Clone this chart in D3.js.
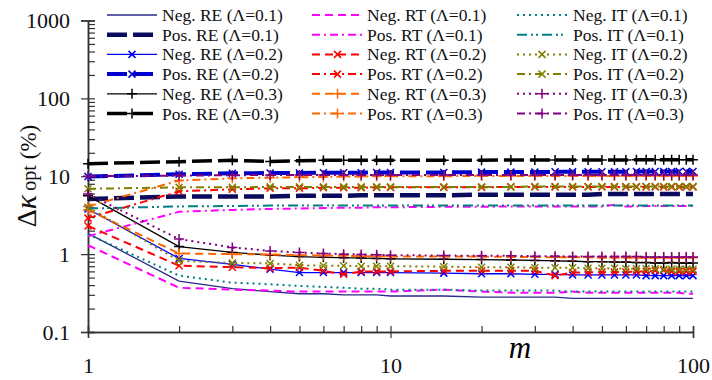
<!DOCTYPE html>
<html>
<head>
<meta charset="utf-8">
<script src="https://cdn.jsdelivr.net/npm/d3@7"></script>
<style>
  body { margin: 0; background: #fff; }
</style>
</head>
<body>
<div id="chart"></div>
<script>
// sample sizes m
const mValues = [1, 2, 3, 4, 5, 6, 7, 8, 9, 10, 15, 20, 25, 30, 35, 40, 45, 50, 55, 60, 65, 70, 75, 80, 85, 90, 95, 100];

// Delta kappa opt (%) per series
const negRE1 = [1.85, 0.45, 0.36, 0.33, 0.31, 0.31, 0.3, 0.3, 0.3, 0.29, 0.29, 0.28, 0.28, 0.28, 0.28, 0.27, 0.27, 0.27, 0.27, 0.27, 0.27, 0.27, 0.27, 0.27, 0.27, 0.27, 0.27, 0.27];
const posRE1 = [5.1, 5.5, 5.5, 5.5, 5.6, 5.6, 5.6, 5.7, 5.7, 5.7, 5.7, 5.8, 5.8, 5.8, 5.8, 5.8, 5.8, 5.9, 5.9, 5.9, 5.9, 5.9, 5.9, 5.9, 5.9, 5.9, 5.9, 5.9];
const negRE2 = [3.8, 0.88, 0.74, 0.64, 0.58, 0.58, 0.58, 0.58, 0.58, 0.58, 0.57, 0.56, 0.56, 0.55, 0.55, 0.54, 0.54, 0.54, 0.54, 0.54, 0.54, 0.53, 0.53, 0.53, 0.53, 0.53, 0.53, 0.53];
const posRE2 = [9.9, 10.6, 10.9, 11.0, 11.0, 11.1, 11.1, 11.1, 11.2, 11.2, 11.2, 11.3, 11.3, 11.3, 11.4, 11.4, 11.4, 11.4, 11.4, 11.4, 11.5, 11.5, 11.5, 11.5, 11.5, 11.5, 11.5, 11.5];
const negRE3 = [5.6, 1.25, 1.05, 0.97, 0.93, 0.91, 0.9, 0.89, 0.88, 0.87, 0.86, 0.85, 0.84, 0.83, 0.82, 0.81, 0.8, 0.8, 0.79, 0.79, 0.78, 0.78, 0.77, 0.77, 0.78, 0.77, 0.77, 0.77];
const posRE3 = [14.5, 15.4, 16.0, 15.5, 15.8, 16.0, 16.0, 16.0, 16.1, 16.1, 16.1, 16.1, 16.2, 16.2, 16.2, 16.2, 16.2, 16.2, 16.2, 16.2, 16.3, 16.3, 16.3, 16.3, 16.3, 16.3, 16.3, 16.3];
const negRT1 = [1.3, 0.37, 0.35, 0.34, 0.33, 0.33, 0.33, 0.33, 0.33, 0.33, 0.35, 0.33, 0.32, 0.32, 0.32, 0.33, 0.32, 0.32, 0.32, 0.32, 0.32, 0.32, 0.32, 0.32, 0.32, 0.32, 0.31, 0.31];
const posRT1 = [1.7, 3.5, 3.7, 3.8, 3.85, 3.9, 3.95, 3.95, 4.0, 4.0, 4.05, 4.05, 4.1, 4.1, 4.1, 4.1, 4.1, 4.1, 4.3, 4.1, 4.1, 4.15, 4.15, 4.15, 4.15, 4.15, 4.15, 4.15];
const negRT2 = [2.3, 0.71, 0.68, 0.66, 0.67, 0.61, 0.55, 0.6, 0.6, 0.6, 0.61, 0.61, 0.61, 0.61, 0.53, 0.58, 0.58, 0.59, 0.59, 0.59, 0.6, 0.6, 0.61, 0.62, 0.6, 0.6, 0.6, 0.6];
const posRT2 = [2.9, 6.4, 6.8, 7.0, 7.0, 7.1, 7.1, 7.1, 7.2, 7.2, 7.2, 7.2, 7.3, 7.3, 7.3, 7.3, 7.3, 7.3, 7.3, 7.3, 7.3, 7.3, 7.3, 7.3, 7.3, 7.3, 7.3, 7.3];
const negRT3 = [3.7, 1.02, 1.0, 0.99, 0.97, 0.96, 0.95, 0.94, 0.94, 0.93, 0.93, 0.93, 0.92, 0.92, 0.91, 0.91, 0.91, 0.9, 0.9, 0.9, 0.9, 0.9, 0.9, 0.9, 0.9, 0.9, 0.9, 0.9];
const posRT3 = [4.1, 8.8, 9.4, 9.6, 9.7, 9.8, 9.9, 9.9, 10.0, 10.0, 10.0, 10.1, 10.1, 10.1, 10.1, 10.1, 10.1, 10.1, 10.1, 10.1, 10.1, 10.1, 10.1, 10.1, 10.1, 10.1, 10.1, 10.1];
const negIT1 = [1.8, 0.53, 0.43, 0.41, 0.39, 0.38, 0.37, 0.36, 0.36, 0.35, 0.35, 0.34, 0.34, 0.34, 0.34, 0.33, 0.33, 0.33, 0.33, 0.33, 0.33, 0.33, 0.33, 0.33, 0.33, 0.33, 0.33, 0.33];
const posIT1 = [3.85, 4.1, 4.15, 4.2, 4.2, 4.2, 4.2, 4.2, 4.2, 4.2, 4.2, 4.2, 4.2, 4.2, 4.2, 4.2, 4.2, 4.2, 4.2, 4.2, 4.2, 4.2, 4.2, 4.2, 4.2, 4.2, 4.2, 4.2];
const negIT2 = [4.0, 0.82, 0.77, 0.76, 0.72, 0.71, 0.71, 0.7, 0.7, 0.7, 0.69, 0.68, 0.68, 0.67, 0.67, 0.67, 0.66, 0.66, 0.66, 0.65, 0.65, 0.65, 0.65, 0.64, 0.64, 0.64, 0.64, 0.64];
const posIT2 = [6.9, 7.2, 7.2, 7.3, 7.3, 7.3, 7.3, 7.3, 7.3, 7.3, 7.3, 7.3, 7.3, 7.4, 7.4, 7.4, 7.4, 7.4, 7.4, 7.4, 7.4, 7.4, 7.4, 7.4, 7.4, 7.4, 7.4, 7.4];
const negIT3 = [5.9, 1.56, 1.22, 1.1, 1.05, 1.02, 1.0, 0.99, 0.98, 0.97, 0.96, 0.95, 0.95, 0.94, 0.94, 0.93, 0.93, 0.93, 0.93, 0.93, 0.93, 0.92, 0.92, 0.92, 0.92, 0.92, 0.92, 0.92];
const posIT3 = [10.0, 10.2, 10.3, 10.4, 10.4, 10.4, 10.4, 10.4, 10.4, 10.4, 10.4, 10.4, 10.4, 10.4, 10.4, 10.4, 10.4, 10.4, 10.4, 10.4, 10.4, 10.4, 10.4, 10.4, 10.4, 10.4, 10.4, 10.4];

const seriesNames = [
  "Neg. RE (Λ=0.1)", "Pos. RE (Λ=0.1)", "Neg. RE (Λ=0.2)", "Pos. RE (Λ=0.2)", "Neg. RE (Λ=0.3)", "Pos. RE (Λ=0.3)",
  "Neg. RT (Λ=0.1)", "Pos. RT (Λ=0.1)", "Neg. RT (Λ=0.2)", "Pos. RT (Λ=0.2)", "Neg. RT (Λ=0.3)", "Pos. RT (Λ=0.3)",
  "Neg. IT (Λ=0.1)", "Pos. IT (Λ=0.1)", "Neg. IT (Λ=0.2)", "Pos. IT (Λ=0.2)", "Neg. IT (Λ=0.3)", "Pos. IT (Λ=0.3)"
];
const seriesValues = [negRE1, posRE1, negRE2, posRE2, negRE3, posRE3,
  negRT1, posRT1, negRT2, posRT2, negRT3, posRT3,
  negIT1, posIT1, negIT2, posIT2, negIT3, posIT3];

const yTickValues = [0.1, 1, 10, 100, 1000];
const xTickValues = [1, 10, 100];

const FONT = "'Liberation Serif', 'Times New Roman', serif";

// line styles: color, width, dash, marker
const styles = [
  {c: "#2a2a88", w: 1.3, d: null, mk: null},
  {c: "#0a0a5e", w: 4.5, d: "20,6", mk: null},
  {c: "#0000ff", w: 1.3, d: null, mk: "x"},
  {c: "#0000cc", w: 4, d: "20,6", mk: "x"},
  {c: "#000000", w: 1.3, d: null, mk: "+"},
  {c: "#000000", w: 3.5, d: "20,6", mk: "+"},
  {c: "#ff00ff", w: 2, d: "8,5", mk: null},
  {c: "#ff00ff", w: 2, d: "8,4,2,4", mk: null},
  {c: "#ff0000", w: 2, d: "8,5", mk: "x"},
  {c: "#ff0000", w: 2, d: "8,4,2,4", mk: "x"},
  {c: "#ff6600", w: 2, d: "8,5", mk: "+"},
  {c: "#ff6600", w: 2, d: "8,4,2,4", mk: "+"},
  {c: "#008080", w: 2, d: "2,4", mk: null},
  {c: "#008080", w: 2, d: "10,4,2,3,2,4", mk: null},
  {c: "#808000", w: 2, d: "2,4", mk: "x"},
  {c: "#808000", w: 2, d: "8,4,2,4", mk: "x"},
  {c: "#800080", w: 2, d: "2,4", mk: "+"},
  {c: "#800080", w: 2, d: "8,4,2,4", mk: "+"}
];

const W = 712, H = 380;
const svg = d3.select("#chart").append("svg")
  .attr("width", W).attr("height", H);

const x = d3.scaleLog().domain([1, 100]).range([88, 693]);
const y = d3.scaleLog().domain([0.1, 1000]).range([332, 20.5]);

// minor ticks
const yMinor = [];
[0.1, 1, 10, 100].forEach(b => { for (let k = 2; k <= 9; k++) yMinor.push(b * k); });
const xMinor = [];
[1, 10].forEach(b => { for (let k = 2; k <= 9; k++) xMinor.push(b * k); });

// Y axis
const gy = svg.append("g").attr("transform", "translate(88,0)");
gy.call(d3.axisLeft(y).tickValues(yTickValues).tickSize(7).tickPadding(11)
  .tickFormat(d => d >= 1 ? d3.format("d")(d) : "0.1"));
gy.append("g").call(d3.axisRight(y).tickValues(yTickValues.concat(yMinor)).tickSize(7).tickFormat(""));
// X axis
const gx = svg.append("g").attr("transform", "translate(0,332)");
gx.call(d3.axisBottom(x).tickValues(xTickValues).tickSize(6).tickPadding(19)
  .tickFormat(d3.format("d")));
gx.append("g").call(d3.axisTop(x).tickValues(xTickValues.concat(xMinor)).tickSize(6).tickFormat(""));

svg.selectAll(".domain").attr("stroke", "#333").attr("stroke-width", 1.5);
svg.selectAll(".tick line").attr("stroke", "#333").attr("stroke-width", 1.2);
svg.selectAll(".tick text").style("font-size", "22px").attr("fill", "#111")
  .style("font-family", FONT);

// axis titles
svg.append("text").attr("x", 520).attr("y", 358).attr("text-anchor", "middle")
  .style("font-family", FONT).style("font-size", "31px").style("font-style", "italic").text("m");
const yl = svg.append("text").attr("transform", "translate(36,176) rotate(-90)")
  .attr("text-anchor", "middle").attr("fill", "#111").style("font-family", FONT);
yl.append("tspan").style("font-size", "28px").text("Δ");
yl.append("tspan").style("font-size", "30px").style("font-style", "italic").text("κ");
yl.append("tspan").style("font-size", "20px").attr("dx", 4).text("opt");
yl.append("tspan").style("font-size", "23px").attr("dx", 6).text("(%)");

// markers
function drawMarker(g, mk, cx, cy, color) {
  if (mk === "x") {
    const s = 3.5;
    g.append("path").attr("d", `M${cx - s},${cy - s}L${cx + s},${cy + s}M${cx - s},${cy + s}L${cx + s},${cy - s}`)
      .attr("stroke", color).attr("stroke-width", 1.5).attr("fill", "none");
  } else if (mk === "+") {
    const s = 5;
    g.append("path").attr("d", `M${cx - s},${cy}L${cx + s},${cy}M${cx},${cy - s}L${cx},${cy + s}`)
      .attr("stroke", color).attr("stroke-width", 1.5).attr("fill", "none");
  }
}

const line = d3.line().x(d => x(d[0])).y(d => y(d[1]));
const plot = svg.append("g");
seriesValues.forEach((vals, i) => {
  const st = styles[i];
  const pts = mValues.map((m, j) => [m, vals[j]]);
  const g = plot.append("g");
  g.append("path").datum(pts).attr("d", line)
    .attr("fill", "none").attr("stroke", st.c).attr("stroke-width", st.w)
    .attr("stroke-dasharray", st.d);
  if (st.mk) pts.forEach(p => drawMarker(g, st.mk, x(p[0]), y(p[1]), st.c));
});

// legend
const legCols = [{x0: 107, x1: 157, tx: 162}, {x0: 312, x1: 363, tx: 367}, {x0: 517, x1: 567, tx: 573}];
const leg = svg.append("g");
seriesNames.forEach((name, i) => {
  const col = legCols[Math.floor(i / 6)];
  const row = i % 6;
  const ly = 15 + row * 19.7;
  const st = styles[i];
  leg.append("line").attr("x1", col.x0).attr("x2", col.x1).attr("y1", ly).attr("y2", ly)
    .attr("stroke", st.c).attr("stroke-width", st.w).attr("stroke-dasharray", st.d);
  if (st.mk) drawMarker(leg, st.mk, (col.x0 + col.x1) / 2, ly, st.c);
  leg.append("text").attr("x", col.tx).attr("y", ly + 6)
    .style("font-family", FONT).style("font-size", "17.5px")
    .attr("fill", "#111").text(name);
});
</script>
</body>
</html>
